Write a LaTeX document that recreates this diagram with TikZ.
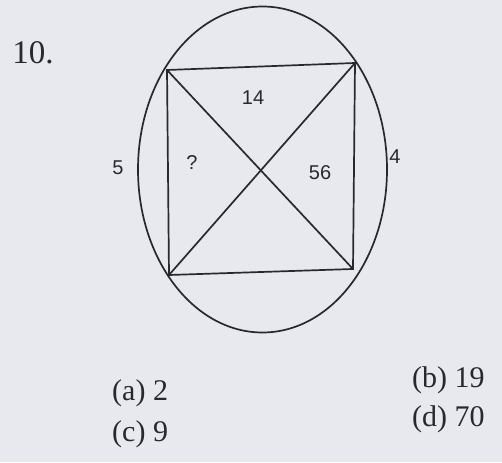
\documentclass[tikz,border=0pt]{standalone}
\usepackage{fontspec}
\setmainfont{Liberation Serif}
\newfontfamily\arialfont{Liberation Sans}
\definecolor{paper}{RGB}{232,233,238}
\definecolor{ink}{RGB}{40,40,45}
\begin{document}
\begin{tikzpicture}[x=1pt,y=-1pt,
  edge/.style={draw=ink,line width=1.7pt},
  inlabel/.style={text=ink,font=\arialfont\fontsize{20}{22}\selectfont,inner sep=0pt},
  optlabel/.style={text=ink,font=\fontsize{30}{32}\selectfont,inner sep=0pt,anchor=west},
  qlabel/.style={text=ink,font=\fontsize{33}{36}\selectfont,inner sep=0pt}]
\fill[paper] (0,0) rectangle (502,462);
\useasboundingbox (0,0) rectangle (502,462);
% ellipse
\draw[edge] (262.5,169.5) ellipse [x radius=124.5, y radius=163];
% square corners
\coordinate (TL) at (167,70);
\coordinate (TR) at (355,63);
\coordinate (BR) at (353,269);
\coordinate (BL) at (169,275);
\draw[edge] (TL) -- (TR) -- (BR) -- (BL) -- cycle;
\draw[edge] (TL) -- (BR);
\draw[edge] (TR) -- (BL);
% labels
\node[qlabel] (q) at (33,53) {10.};
\node[inlabel] (l14) at (253,98) {14};
\node[inlabel] (l5) at (118,168) {5};
\node[inlabel] (lq) at (192,163) {?};
\node[inlabel] (l56) at (320,173) {56};
\node[inlabel] (l4) at (395,157) {4};
\node[optlabel] (oa) at (112,393) {(a) 2};
\node[optlabel] (oc) at (112,434) {(c) 9};
\node[optlabel] (ob) at (412,380) {(b) 19};
\node[optlabel] (od) at (412,419) {(d) 70};
\end{tikzpicture}
\end{document}
